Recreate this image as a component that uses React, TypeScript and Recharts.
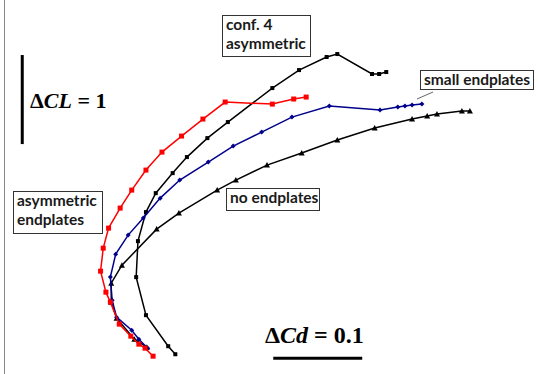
import { ScatterChart, Scatter, XAxis, YAxis, ReferenceLine } from "recharts";

// drag polars: Cd on x, CL on y (scale bars give 0.1 Cd and 1 CL)
const asymEndplates = [
  { cd: 0.344, cl: 2.910 }, { cd: 0.330, cl: 2.888 }, { cd: 0.306, cl: 2.831 }, { cd: 0.253, cl: 2.854 },
  { cd: 0.228, cl: 2.663 }, { cd: 0.204, cl: 2.472 }, { cd: 0.182, cl: 2.292 }, { cd: 0.164, cl: 2.090 },
  { cd: 0.148, cl: 1.865 }, { cd: 0.135, cl: 1.663 }, { cd: 0.122, cl: 1.438 }, { cd: 0.116, cl: 1.213 },
  { cd: 0.113, cl: 0.955 }, { cd: 0.119, cl: 0.719 }, { cd: 0.124, cl: 0.607 }, { cd: 0.134, cl: 0.360 },
  { cd: 0.147, cl: 0.225 }, { cd: 0.156, cl: 0.135 }, { cd: 0.163, cl: 0.090 }, { cd: 0.172, cl: 0.0 },
];

const conf4Asym = [
  { cd: 0.197, cl: 0.022 }, { cd: 0.189, cl: 0.112 }, { cd: 0.164, cl: 0.461 }, { cd: 0.153, cl: 0.888 },
  { cd: 0.155, cl: 1.292 }, { cd: 0.164, cl: 1.618 }, { cd: 0.175, cl: 1.831 }, { cd: 0.194, cl: 2.056 },
  { cd: 0.210, cl: 2.236 }, { cd: 0.233, cl: 2.449 }, { cd: 0.256, cl: 2.629 }, { cd: 0.306, cl: 3.011 },
  { cd: 0.336, cl: 3.213 }, { cd: 0.367, cl: 3.360 }, { cd: 0.379, cl: 3.393 }, { cd: 0.418, cl: 3.169 },
  { cd: 0.426, cl: 3.169 }, { cd: 0.434, cl: 3.191 },
];

const smallEndplates = [
  { cd: 0.166, cl: 0.090 }, { cd: 0.156, cl: 0.191 }, { cd: 0.148, cl: 0.292 }, { cd: 0.131, cl: 0.438 },
  { cd: 0.126, cl: 0.629 }, { cd: 0.124, cl: 0.888 }, { cd: 0.130, cl: 1.146 }, { cd: 0.144, cl: 1.360 },
  { cd: 0.161, cl: 1.551 }, { cd: 0.180, cl: 1.775 }, { cd: 0.202, cl: 1.978 }, { cd: 0.234, cl: 2.180 },
  { cd: 0.262, cl: 2.360 }, { cd: 0.294, cl: 2.517 }, { cd: 0.328, cl: 2.685 }, { cd: 0.370, cl: 2.809 },
  { cd: 0.427, cl: 2.764 }, { cd: 0.447, cl: 2.798 }, { cd: 0.455, cl: 2.809 }, { cd: 0.463, cl: 2.820 },
  { cd: 0.474, cl: 2.831 },
];

const noEndplates = [
  { cd: 0.165, cl: 0.101 }, { cd: 0.151, cl: 0.191 }, { cd: 0.131, cl: 0.427 }, { cd: 0.125, cl: 0.607 },
  { cd: 0.125, cl: 0.820 }, { cd: 0.137, cl: 1.022 }, { cd: 0.176, cl: 1.427 }, { cd: 0.201, cl: 1.607 },
  { cd: 0.244, cl: 1.865 }, { cd: 0.265, cl: 1.978 }, { cd: 0.300, cl: 2.146 }, { cd: 0.339, cl: 2.281 },
  { cd: 0.379, cl: 2.427 }, { cd: 0.421, cl: 2.562 }, { cd: 0.463, cl: 2.663 }, { cd: 0.480, cl: 2.697 },
  { cd: 0.491, cl: 2.719 }, { cd: 0.519, cl: 2.753 }, { cd: 0.528, cl: 2.753 },
];

// scale bars
const clBar = { cd: 0.025, from: 2.382, to: 3.382 };
const cdBar = { cl: -0.022, from: 0.307, to: 0.407 };

const W = 538;
const H = 374;

const square = (size: number, color: string) => (p: any) =>
  <rect x={p.cx - size / 2} y={p.cy - size / 2} width={size} height={size} fill={color} />;

const triangle = (p: any) =>
  <path d={`M${p.cx},${p.cy - 3} L${p.cx + 3},${p.cy + 2.5} L${p.cx - 3},${p.cy + 2.5} Z`} fill="#000" />;

const diamond = (p: any) =>
  <path d={`M${p.cx},${p.cy - 2.5} L${p.cx + 2.5},${p.cy} L${p.cx},${p.cy + 2.5} L${p.cx - 2.5},${p.cy} Z`} fill="#00008b" />;

const labelFont = { fontFamily: "Lato, 'Open Sans', sans-serif", fontSize: 15.5, fontWeight: 700, fill: "#1a1a1a" };
const mathFont = { fontFamily: "'Liberation Serif', 'DejaVu Serif', serif", fontWeight: 700, fill: "#000" };

function Box({ x, y, w, h, lines }: { x: number; y: number; w: number; h: number; lines: string[] }) {
  return (
    <g>
      <rect x={x + 0.5} y={y + 0.5} width={w} height={h} fill="#fff" stroke="#333" strokeWidth={1} />
      {lines.map((t, i) => (
        <text key={i} x={x + 4} y={y + 15 + i * 19} {...labelFont}>{t}</text>
      ))}
    </g>
  );
}

export default function App() {
  return (
    <div style={{ position: "absolute", left: 0, top: 0, width: W, height: H, background: "#fff" }}>
      <ScatterChart width={W} height={H} margin={{ top: 0, right: 0, bottom: 0, left: 0 }}>
        <XAxis type="number" dataKey="cd" domain={[0, 0.6045]} hide />
        <YAxis type="number" dataKey="cl" domain={[-0.2, 4]} hide />
        <ReferenceLine
          segment={[{ x: clBar.cd, y: clBar.from }, { x: clBar.cd, y: clBar.to }]}
          stroke="#000" strokeWidth={3} ifOverflow="visible"
        />
        <ReferenceLine
          segment={[{ x: cdBar.from, y: cdBar.cl }, { x: cdBar.to, y: cdBar.cl }]}
          stroke="#000" strokeWidth={3} ifOverflow="visible"
        />
        <Scatter data={noEndplates} line={{ stroke: "#000", strokeWidth: 1.5 }} shape={triangle} isAnimationActive={false} />
        <Scatter data={conf4Asym} line={{ stroke: "#000", strokeWidth: 1.5 }} shape={square(4, "#000")} isAnimationActive={false} />
        <Scatter data={smallEndplates} line={{ stroke: "#00008b", strokeWidth: 1.5 }} shape={diamond} isAnimationActive={false} />
        <Scatter data={asymEndplates} line={{ stroke: "#ff0000", strokeWidth: 1.5 }} shape={square(5, "#ff0000")} isAnimationActive={false} />
      </ScatterChart>
      <svg width={W} height={H} style={{ position: "absolute", left: 0, top: 0, pointerEvents: "none" }}>
        <line x1={4.5} y1={0} x2={4.5} y2={H} stroke="#888" strokeWidth={1} />
        <line x1={433} y1={92} x2={417} y2={99} stroke="#666" strokeWidth={1} />
        <Box x={222} y={15} w={88} h={41} lines={["conf. 4", "asymmetric"]} />
        <Box x={420} y={70} w={113} h={19} lines={["small endplates"]} />
        <Box x={13} y={191} w={89} h={42} lines={["asymmetric", "endplates"]} />
        <Box x={226} y={188} w={93} h={22} lines={["no endplates"]} />
        <text x={30} y={108} {...mathFont} fontSize={22}>
          <tspan>Δ</tspan><tspan fontStyle="italic">CL</tspan><tspan> = 1</tspan>
        </text>
        <text x={265} y={343} {...mathFont} fontSize={24}>
          <tspan>Δ</tspan><tspan fontStyle="italic">Cd</tspan><tspan> = 0.1</tspan>
        </text>
      </svg>
    </div>
  );
}
